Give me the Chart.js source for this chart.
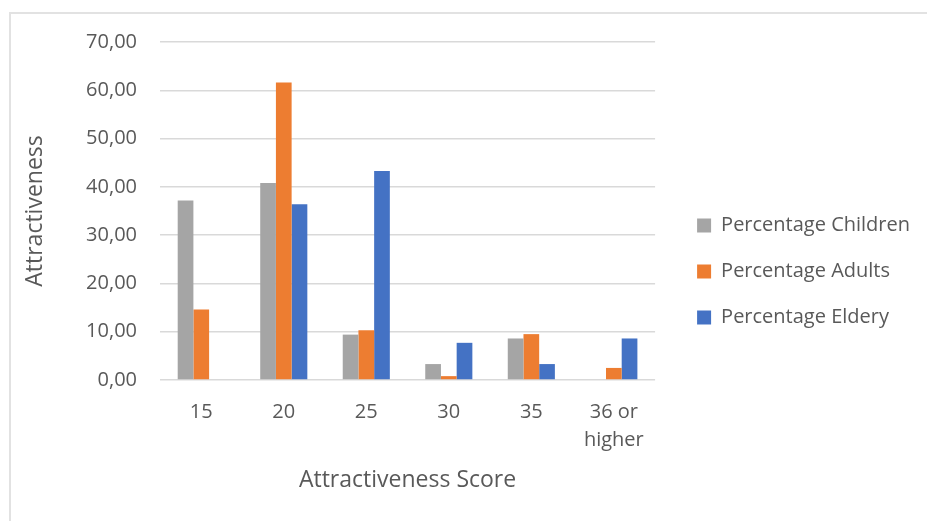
<!DOCTYPE html>
<html>
<head>
<meta charset="utf-8">
<script src="https://cdn.jsdelivr.net/npm/chart.js@4/dist/chart.umd.min.js"></script>
<style>
  html, body { margin: 0; padding: 0; background: #ffffff; overflow: hidden; }
  #frame { position: absolute; left: 9px; top: 12px; width: 1000px; height: 600px; border: 2px solid #e2e2e2; box-sizing: border-box; }
  #wrap { position: absolute; left: 0; top: 0; width: 927px; height: 521px; }
</style>
</head>
<body>
<div id="frame"></div>
<div id="wrap"><canvas id="chart" width="927" height="521"></canvas></div>
<script>
// Attractiveness score groups
const categories = ['15', '20', '25', '30', '35', ['36 or', 'higher']];

// Percentage per age group
const percentageChildren = [37.2, 40.8, 9.4, 3.3, 8.6, 0];
const percentageAdults   = [14.6, 61.6, 10.3, 0.8, 9.5, 2.5];
const percentageEldery   = [0, 36.4, 43.3, 7.7, 3.3, 8.6];

const seriesNames = ['Percentage Children', 'Percentage Adults', 'Percentage Eldery'];
const yTicks = { min: 0, max: 70, step: 10 };

const textColor = '#595959';
const gridColor = '#d9d9d9';
const family = "'Open Sans', 'Noto Sans', sans-serif";

const ctx = document.getElementById('chart').getContext('2d');
new Chart(ctx, {
  type: 'bar',
  data: {
    labels: categories,
    datasets: [
      { label: seriesNames[0], data: percentageChildren, backgroundColor: '#a5a5a5' },
      { label: seriesNames[1], data: percentageAdults, backgroundColor: '#ed7d31' },
      { label: seriesNames[2], data: percentageEldery, backgroundColor: '#4472c4' }
    ]
  },
  options: {
    responsive: false,
    animation: false,
    devicePixelRatio: 1,
    layout: { padding: { left: 0, top: 42, right: 7, bottom: 20 } },
    datasets: { bar: { barPercentage: 1, categoryPercentage: 0.571, borderWidth: 0 } },
    scales: {
      x: {
        grid: { display: false, drawTicks: false },
        border: { display: false },
        ticks: { color: textColor, padding: 18, font: { family, size: 20, lineHeight: 1.4 }, maxRotation: 0, autoSkip: false },
        title: { display: true, text: 'Attractiveness Score', color: textColor, font: { family, size: 23 }, padding: { top: 0, bottom: 7 } },
        afterFit: s => { s.height = 121; }
      },
      y: {
        min: yTicks.min, max: yTicks.max,
        grid: { color: gridColor, lineWidth: 1.5, drawTicks: false },
        border: { display: false },
        ticks: {
          stepSize: yTicks.step, color: textColor, padding: 23,
          font: { family, size: 20 },
          callback: v => v.toFixed(2).replace('.', ',')
        },
        title: { display: true, text: 'Attractiveness', color: textColor, font: { family, size: 23 }, padding: { top: 22, bottom: 0 } },
        afterFit: s => { s.width = 160; }
      },
      gap: {
        position: 'right', display: true,
        grid: { display: false, drawTicks: false },
        border: { display: false },
        ticks: { display: false },
        afterFit: s => { s.width = 16; }
      }
    },
    plugins: {
      legend: {
        position: 'right',
        maxWidth: 300,
        labels: { color: textColor, boxWidth: 14, boxHeight: 14, padding: 26, font: { family, size: 20 } }
      },
      tooltip: { enabled: false }
    }
  }
});
</script>
</body>
</html>
